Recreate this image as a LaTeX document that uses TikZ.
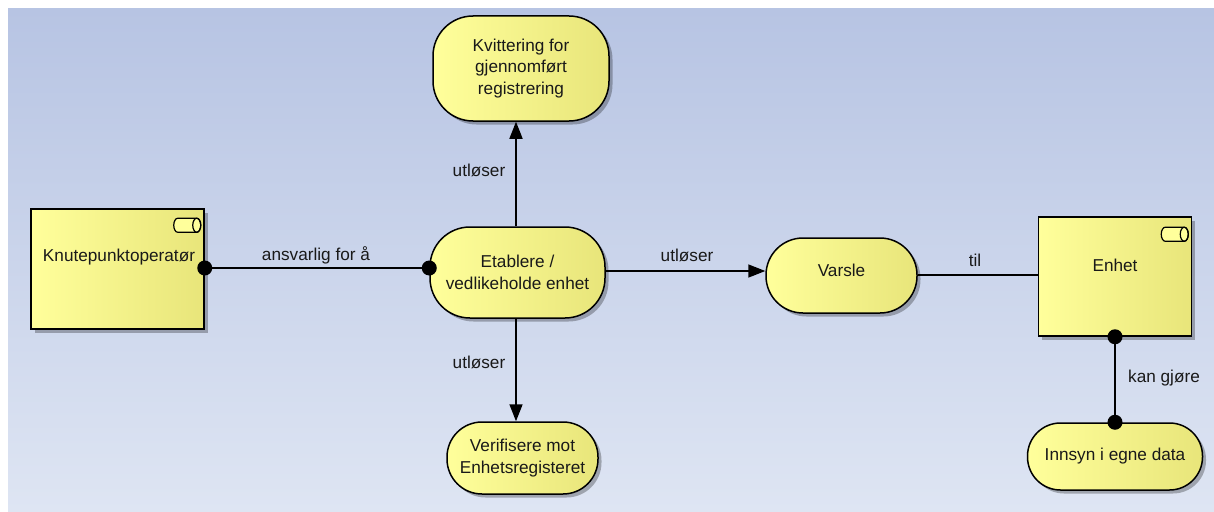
\documentclass[tikz,border=0pt]{standalone}
\usepackage{fontspec}
\setmainfont{Liberation Sans}
\usetikzlibrary{arrows.meta,shadows}

\definecolor{bgtop}{RGB}{183,196,227}
\definecolor{bgbot}{RGB}{222,229,243}
\definecolor{ylight}{RGB}{255,255,155}
\definecolor{ydark}{RGB}{232,229,122}
\definecolor{txt}{RGB}{25,25,25}

\newcommand\dfont{\fontsize{17.2}{21.5}\selectfont}

\begin{document}
\begin{tikzpicture}[x=1pt,y=-1pt,
  base/.style={draw=black, line width=1.5pt, left color=ylight, right color=ydark,
    drop shadow={shadow xshift=3.5pt, shadow yshift=-3.5pt, opacity=0.28, fill=black},
    inner sep=0pt, text=txt, font=\dfont},
  role/.style={base, rectangle},
  event/.style={base, rounded corners=#1, align=center},
  conn/.style={line width=1.7pt, draw=black},
  trig/.style={conn, -{Triangle[length=17pt,width=13pt]}},
  lab/.style={font=\dfont, text=txt},
  dot/.style={fill=black},
  roleicon/.pic={
    \draw[line width=1.2pt, fill=ylight]
      (4,0) -- (23,0) arc[start angle=-90, end angle=90, x radius=4, y radius=7]
      -- (4,14) arc[start angle=90, end angle=270, x radius=4, y radius=7] -- cycle;
    \draw[line width=1.2pt] (23,7) ellipse[x radius=4, y radius=7];
  }]

\useasboundingbox (0,0) rectangle (1214,511);
\fill[top color=bgtop, bottom color=bgbot] (8,9) rectangle (1214,511);

% roles
\node[role, minimum width=173pt, minimum height=120pt] (knut) at (117.5,269) {};
\node[role, minimum width=153pt, minimum height=119pt] (enhet) at (1115,276.5) {};
\pic at ([shift={(-31,10)}]knut.north east) {roleicon};
\pic at ([shift={(-31,11)}]enhet.north east) {roleicon};
\node[lab] (knuttxt) at (119,257) {Knutepunktoperatør};
\node[lab] (enhettxt) at (1115,265) {Enhet};

% events
\node[event=40pt, minimum width=175pt, minimum height=91pt] (etab) at (517.5,272.5)
  {Etablere /\\vedlikeholde enhet};
\node[event=40pt, minimum width=176pt, minimum height=105pt] (kvit) at (521,68.5)
  {Kvittering for\\gjennomført\\registrering};
\node[event=35pt, minimum width=151pt, minimum height=72pt] (verif) at (522.5,458)
  {Verifisere mot\\Enhetsregisteret};
\node[event=37pt, minimum width=151pt, minimum height=75pt, text depth=11pt] (varsle) at (841.5,275.5)
  {Varsle};
\node[event=33pt, minimum width=175pt, minimum height=67pt, text depth=4pt] (innsyn) at (1115,456.5)
  {Innsyn i egne data};

% helper rows for horizontal connectors
\coordinate (rowA) at (0,268);
\coordinate (rowB) at (0,271);
\coordinate (rowC) at (0,275);
\coordinate (colA) at (516,0);

% connectors
\draw[conn] (knut.east |- rowA) -- (etab.west |- rowA);
\fill[dot] (knut.east |- rowA) circle (7.5pt);
\fill[dot] (etab.west |- rowA) circle (7.5pt);

\draw[trig] (colA |- etab.north) -- (colA |- kvit.south);
\draw[trig] (colA |- etab.south) -- (colA |- verif.north);
\draw[trig] (etab.east |- rowB) -- (varsle.west |- rowB);
\draw[conn] (varsle.east |- rowC) -- (enhet.west |- rowC);

\draw[conn] (enhet.south) -- (innsyn.north);
\fill[dot] (enhet.south) circle (7.5pt);
\fill[dot] (innsyn.north) circle (7.5pt);

% connector labels
\node[lab] (l1) at (316,255) {ansvarlig for å};
\node[lab] (l2) at (479,170) {utløser};
\node[lab] (l3) at (479,362) {utløser};
\node[lab] (l4) at (687,255) {utløser};
\node[lab] (l5) at (975,260) {til};
\node[lab] (l6) at (1164,378) {kan gjøre};
\end{tikzpicture}
\end{document}
